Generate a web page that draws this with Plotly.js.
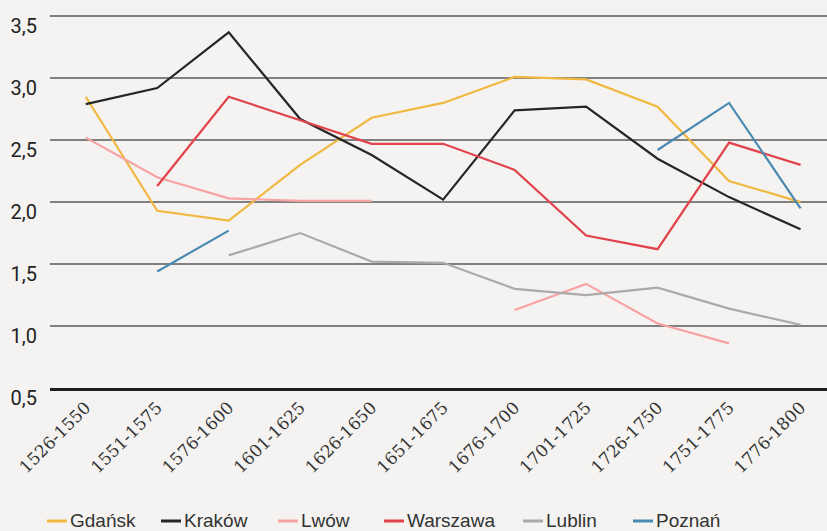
<!DOCTYPE html>
<html>
<head>
<meta charset="utf-8">
<script src="https://cdn.plot.ly/plotly-3.0.1.min.js"></script>
<style>html,body{margin:0;padding:0;background:#f4f3f1;}#chart{width:827px;height:531px;}</style>
</head>
<body>
<div id="chart"></div>
<script>
const periods = ["1526-1550","1551-1575","1576-1600","1601-1625","1626-1650","1651-1675","1676-1700","1701-1725","1726-1750","1751-1775","1776-1800"];
const gdansk   = [2.85, 1.93, 1.85, 2.30, 2.68, 2.80, 3.01, 2.99, 2.77, 2.17, 2.00];
const krakow   = [2.79, 2.92, 3.37, 2.67, 2.38, 2.02, 2.74, 2.77, 2.35, 2.04, 1.78];
const lwow     = [2.52, 2.20, 2.03, 2.01, 2.01, null, 1.13, 1.34, 1.02, 0.86, null];
const warszawa = [null, 2.13, 2.85, 2.66, 2.47, 2.47, 2.26, 1.73, 1.62, 2.48, 2.30];
const lublin   = [null, null, 1.57, 1.75, 1.52, 1.51, 1.30, 1.25, 1.31, 1.14, 1.01];
const poznan   = [null, 1.44, 1.77, null, null, null, null, null, 2.42, 2.80, 1.95];
const yTicks = [0.5, 1.0, 1.5, 2.0, 2.5, 3.0, 3.5];

const seriesNames = ["Gdańsk","Kraków","Lwów","Warszawa","Lublin","Poznań"];
const seriesData = [gdansk, krakow, lwow, warszawa, lublin, poznan];
const seriesColors = ["#f0b840","#262626","#f7a3a3","#e2434b","#aaaaaa","#4a8ab2"];

const traces = seriesNames.map((n,i)=>({
  type:"scatter", mode:"lines", name:n, x:periods, y:seriesData[i],
  connectgaps:false, line:{color:seriesColors[i], width:2.2}
}));

// figure geometry (pixels) used to place the hand-made legend below the plot
const M = {l:50, r:0, t:5, b:143};
const W = 827, H = 531;
const plotW = W - M.l - M.r, plotH = H - M.t - M.b;
const px2x = p => (p - M.l) / plotW;
const px2y = p => (H - M.b - p) / plotH;
const legendStart = [47, 161, 278, 384, 523, 633]; // left pixel of each legend swatch
const legendY = 520;

const shapes = [], annotations = [];
seriesNames.forEach((n,i)=>{
  const x0 = legendStart[i];
  shapes.push({type:"line", xref:"paper", yref:"paper",
    x0:px2x(x0), x1:px2x(x0+20), y0:px2y(legendY+1), y1:px2y(legendY+1),
    line:{color:seriesColors[i], width:3}});
  annotations.push({xref:"paper", yref:"paper", x:px2x(x0+21), y:px2y(legendY),
    xanchor:"left", yanchor:"middle", showarrow:false, text:n,
    font:{family:"Liberation Sans, Arial, sans-serif", size:19, color:"#333"}});
});

const layout = {
  width:W, height:H,
  paper_bgcolor:"#f4f3f1", plot_bgcolor:"#f4f3f1",
  margin:{l:M.l, r:M.r, t:M.t, b:M.b, autoexpand:false},
  separators:",.",
  showlegend:false,
  shapes:shapes, annotations:annotations,
  xaxis:{type:"category", range:[-0.5, 10.37], showgrid:false, zeroline:false,
    showline:true, linecolor:"#1e1e1e", linewidth:3, automargin:false,
    tickangle:-45, ticks:"", tickfont:{family:"DejaVu Serif, serif", size:17, color:"#333"}},
  yaxis:{range:[0.5, 3.59], tickvals:yTicks, tickformat:".1f", automargin:false,
    showgrid:true, gridcolor:"#808080", gridwidth:2, zeroline:false, showline:false,
    ticks:"", ticklabelshift:10, ticklabelstandoff:12,
    tickfont:{family:"Roboto, Liberation Sans, sans-serif", size:20, color:"#222"}}
};
Plotly.newPlot("chart", traces, layout, {displayModeBar:false, staticPlot:true});
</script>
</body>
</html>
